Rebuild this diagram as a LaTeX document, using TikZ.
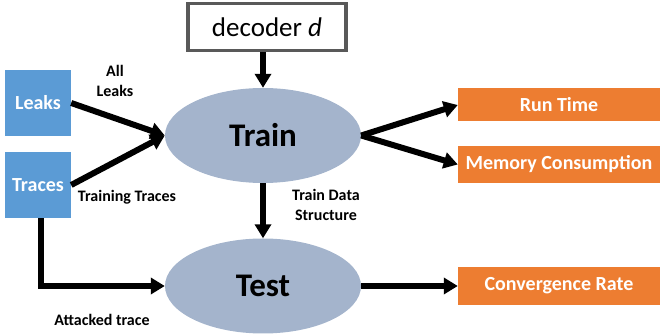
\documentclass[tikz,border=0pt]{standalone}
\usepackage{fontspec}
\setmainfont{Carlito}
\usetikzlibrary{arrows.meta, positioning, shapes.geometric}

\definecolor{leakblue}{HTML}{5B9BD5}
\definecolor{stagegray}{HTML}{A4B4CC}
\definecolor{outorange}{HTML}{ED7D31}
\definecolor{decgray}{HTML}{595959}

\begin{document}
\begin{tikzpicture}[x=1pt, y=-1pt,
    inbox/.style={fill=leakblue, text=white, font=\bfseries\fontsize{20}{22}\selectfont,
                  minimum width=66pt, minimum height=66pt, inner sep=0pt},
    stage/.style={ellipse, fill=stagegray, minimum width=196pt, minimum height=95pt,
                  inner sep=0pt, font=\bfseries\fontsize{33}{36}\selectfont},
    outbox/.style={fill=outorange, text=white, font=\bfseries\fontsize{20}{22}\selectfont,
                   minimum width=202pt, inner sep=0pt},
    flow/.style={line width=6pt, -{Triangle[length=14pt,width=16pt]}},
    lbl/.style={font=\bfseries\fontsize{16}{20}\selectfont, align=center}]
    \useasboundingbox (0,0) rectangle (662,336);

    % inputs and stages
    \node[inbox] (leaks) at (38,103) {Leaks};
    \node[inbox] (traces) at (38,185) {Traces};
    \node[draw=decgray, line width=3.5pt, minimum width=158pt, minimum height=47pt,
          font=\fontsize{27}{30}\selectfont] (dec) at (267,27) {decoder \textit{d}};
    \node[stage] (train) at (263,135.5) {Train};
    \node[stage] (test) at (263,286) {Test};

    % outputs
    \node[outbox, minimum height=33pt] (run) at (559,105) {Run Time};
    \node[outbox, minimum height=37pt] (mem) at (559,164.5) {Memory Consumption};
    \node[outbox, minimum height=38pt] (conv) at (559,286) {Convergence Rate};

    % arrows
    \draw[flow] (train.north |- dec.south) -- (train.north);
    \draw[flow] (leaks.east) -- (train.west);
    \draw[flow] (traces.east) -- (train.west);
    \draw[flow] (train.south) -- (test.north);
    \draw[flow] ([xshift=3pt]traces.south) |- (test.west);
    \draw[flow] (train.east) -- (run.west);
    \draw[flow] (train.east) -- (mem.west);
    \draw[flow] (test.east) -- (conv.west);

    % labels
    \node[lbl] (allleaks) at (115,81) {All\\Leaks};
    \node[lbl] (traintr) at (127,197) {Training Traces};
    \node[lbl] (tds) at (326,205) {Train Data\\Structure};
    \node[lbl] (attacked) at (102,320) {Attacked trace};
\end{tikzpicture}
\end{document}
